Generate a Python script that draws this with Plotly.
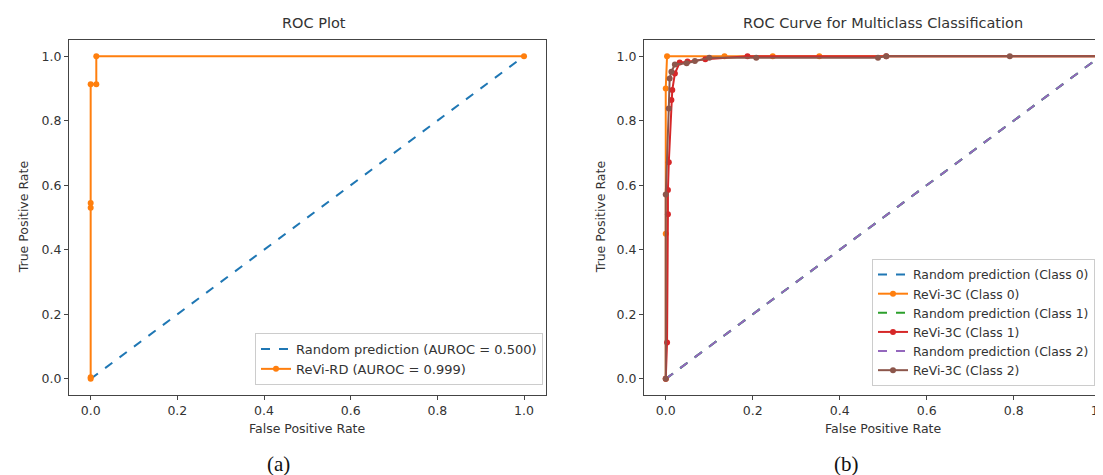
import plotly.graph_objects as go

# ---------------- data ----------------
rand_x = [0.0, 1.0]
rand_y = [0.0, 1.0]

# (a) binary ROC
rd_fpr = [0.0, 0.0, 0.0, 0.0, 0.0, 0.013, 0.013, 1.0]
rd_tpr = [0.0, 0.005, 0.53, 0.545, 0.913, 0.913, 1.0, 1.0]

# (b) multiclass ROC
c0_fpr = [0.0, 0.0, 0.0, 0.003, 0.135, 0.246, 0.353, 1.0]
c0_tpr = [0.0, 0.45, 0.9, 1.0, 1.0, 1.0, 1.0, 1.0]

c1_fpr = [0.0, 0.003, 0.005, 0.005, 0.007, 0.013, 0.015, 0.021, 0.032, 0.05, 0.091, 0.188, 0.507, 1.0]
c1_tpr = [0.0, 0.113, 0.51, 0.585, 0.671, 0.864, 0.895, 0.946, 0.98, 0.983, 0.99, 1.0, 1.0, 1.0]

c2_fpr = [0.0, 0.0, 0.007, 0.009, 0.013, 0.021, 0.048, 0.067, 0.1, 0.208, 0.488, 0.507, 0.791, 1.0]
c2_tpr = [0.0, 0.571, 0.838, 0.931, 0.952, 0.974, 0.978, 0.985, 0.995, 0.995, 0.995, 1.0, 1.0, 1.0]

tick_vals = [0.0, 0.2, 0.4, 0.6, 0.8, 1.0]
tick_text = ["0.0", "0.2", "0.4", "0.6", "0.8", "1.0"]

BLUE, ORANGE, GREEN, RED, PURPLE, BROWN = "#1f77b4", "#ff7f0e", "#2ca02c", "#d62728", "#9467bd", "#8c564b"
FONT = "DejaVu Sans"
W, H = 1103, 475
MT, MB = 31.5, 88
PH = H - MT - MB

fig = go.Figure()

# left panel
fig.add_trace(go.Scatter(x=rand_x, y=rand_y, mode="lines", line=dict(color=BLUE, width=2, dash="dash"),
                         name="Random prediction (AUROC = 0.500)", xaxis="x", yaxis="y", legend="legend"))
fig.add_trace(go.Scatter(x=rd_fpr, y=rd_tpr, mode="lines+markers", line=dict(color=ORANGE, width=2),
                         marker=dict(size=6, color=ORANGE),
                         name="ReVi-RD (AUROC = 0.999)", xaxis="x", yaxis="y", legend="legend"))

# right panel
series = [
    ("Random prediction (Class 0)", rand_x, rand_y, BLUE, True),
    ("ReVi-3C (Class 0)", c0_fpr, c0_tpr, ORANGE, False),
    ("Random prediction (Class 1)", rand_x, rand_y, GREEN, True),
    ("ReVi-3C (Class 1)", c1_fpr, c1_tpr, RED, False),
    ("Random prediction (Class 2)", rand_x, rand_y, PURPLE, True),
    ("ReVi-3C (Class 2)", c2_fpr, c2_tpr, BROWN, False),
]
for name, xs, ys, col, dashed in series:
    if dashed:
        fig.add_trace(go.Scatter(x=xs, y=ys, mode="lines", line=dict(color=col, width=2, dash="dash"),
                                 name=name, xaxis="x2", yaxis="y2", legend="legend2"))
    else:
        fig.add_trace(go.Scatter(x=xs, y=ys, mode="lines+markers", line=dict(color=col, width=2),
                                 marker=dict(size=6, color=col),
                                 name=name, xaxis="x2", yaxis="y2", legend="legend2"))

axis_common = dict(showgrid=False, zeroline=False, showline=True, linecolor="#444", linewidth=1,
                   ticks="outside", ticklen=4, tickcolor="#444", tickvals=tick_vals, ticktext=tick_text,
                   tickfont=dict(family=FONT, size=12.5, color="#333"), automargin=False)

x1_dom = [61 / W, 537.7 / W]
x2_dom = [636 / W, 1.0]
x2_right = (W - 657.7) / 435.0

fig.update_layout(
    width=W, height=H,
    margin=dict(l=0, r=0, t=MT, b=MB),
    paper_bgcolor="white", plot_bgcolor="white",
    xaxis=dict(domain=x1_dom, range=[-0.05, 1.05], mirror=True, anchor="y", **axis_common),
    yaxis=dict(domain=[0, 1], range=[-0.05, 1.05], mirror=True, anchor="x", **axis_common),
    xaxis2=dict(domain=x2_dom, range=[-0.05, x2_right], mirror=True, anchor="y2", **axis_common),
    yaxis2=dict(domain=[0, 1], range=[-0.05, 1.05], mirror=False, anchor="x2", **axis_common),
    legend=dict(x=535 / W, xanchor="right", y=(387 - 377) / PH, yanchor="bottom",
                bgcolor="rgba(255,255,255,0.85)", bordercolor="#cccccc", borderwidth=1,
                font=dict(family=FONT, size=13, color="#333"), tracegroupgap=0, itemwidth=30),
    legend2=dict(x=864 / W, xanchor="left", y=(387 - 378) / PH, yanchor="bottom",
                 bgcolor="rgba(255,255,255,0.85)", bordercolor="#cccccc", borderwidth=1,
                 font=dict(family=FONT, size=12.4, color="#333"), tracegroupgap=0, itemwidth=30),
    showlegend=True,
)

def ann(text, px, py, size, angle=0, family=FONT, color="#333"):
    fig.add_annotation(text=text, x=px / W, y=(H - MB - py) / PH, xref="paper", yref="paper",
                       showarrow=False, textangle=angle, xanchor="center", yanchor="middle",
                       font=dict(family=family, size=size, color=color))

ann("ROC Plot", 306, 14, 14.5)
ann("ROC Curve for Multiclass Classification", 875, 14, 14.5)
ann("False Positive Rate", 299, 421, 12.5)
ann("False Positive Rate", 875, 421, 12.5)
ann("True Positive Rate", 15, 209, 12.5, angle=-90)
ann("True Positive Rate", 592, 209, 12.5, angle=-90)
ann("(a)", 270, 456, 21, family="Liberation Serif", color="#111")
ann("(b)", 838, 456, 21, family="Liberation Serif", color="#111")

fig.write_html("out.html")
